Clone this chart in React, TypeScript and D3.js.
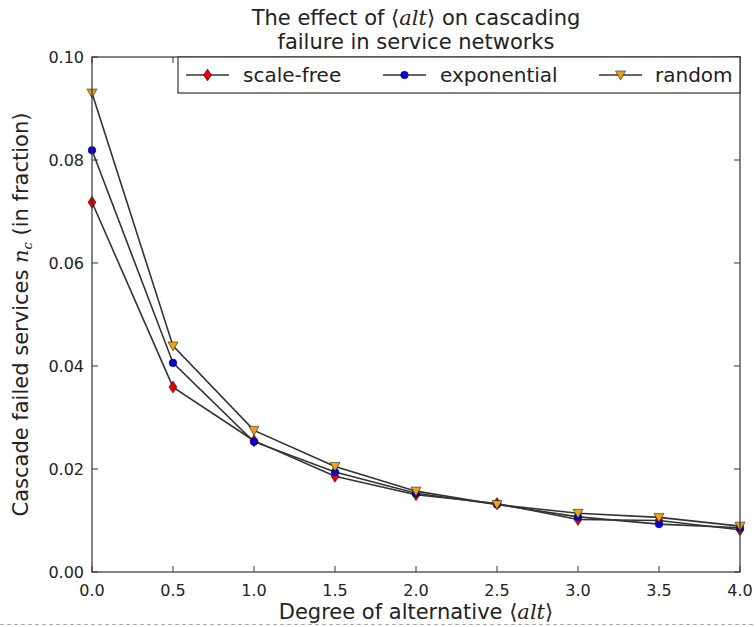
import React from "react";
import * as d3 from "d3";

// x values: degree of alternative <alt>
const altValues = [0.0, 0.5, 1.0, 1.5, 2.0, 2.5, 3.0, 3.5, 4.0];

// cascade failed services (fraction) per network type
const scaleFree = [0.0718, 0.0359, 0.0255, 0.0186, 0.0150, 0.0133, 0.0102, 0.0100, 0.0082];
const exponential = [0.0819, 0.0406, 0.0253, 0.0194, 0.0153, 0.0131, 0.0107, 0.0093, 0.0086];
const random = [0.0930, 0.0439, 0.0275, 0.0205, 0.0157, 0.0131, 0.0114, 0.0106, 0.0089];

const xTicks = [0.0, 0.5, 1.0, 1.5, 2.0, 2.5, 3.0, 3.5, 4.0];
const yTicks = [0.0, 0.02, 0.04, 0.06, 0.08, 0.1];

const series = [
  { name: "scale-free", values: scaleFree, color: "#e8000b", marker: "diamond" },
  { name: "exponential", values: exponential, color: "#0000e0", marker: "circle" },
  { name: "random", values: random, color: "#e8a317", marker: "triangle" },
];

const width = 755;
const height = 627;
const margin = { left: 92, right: 15, top: 57, bottom: 55 };
const font = "'DejaVu Sans', sans-serif";

const Marker = ({ type, x, y, color }: { type: string; x: number; y: number; color: string }) => {
  if (type === "diamond") {
    return (
      <path
        d={`M${x},${y - 6} L${x + 4},${y} L${x},${y + 6} L${x - 4},${y} Z`}
        fill={color}
        stroke="#000"
        strokeWidth={0.5}
      />
    );
  }
  if (type === "circle") {
    return <circle cx={x} cy={y} r={3.8} fill={color} stroke="#000" strokeWidth={0.5} />;
  }
  return (
    <path
      d={`M${x - 5},${y - 4} L${x + 5},${y - 4} L${x},${y + 5} Z`}
      fill={color}
      stroke="#000"
      strokeWidth={0.5}
    />
  );
};

const Alt = () => (
  <>
    <tspan fontFamily="'DejaVu Sans', sans-serif">⟨</tspan>
    <tspan fontFamily="'DejaVu Serif', serif" fontStyle="italic">alt</tspan>
    <tspan fontFamily="'DejaVu Sans', sans-serif">⟩</tspan>
  </>
);

export default function App() {
  const x = d3
    .scaleLinear()
    .domain([0, 4])
    .range([margin.left, width - margin.right]);
  const y = d3
    .scaleLinear()
    .domain([0, 0.1])
    .range([height - margin.bottom, margin.top]);

  const line = d3
    .line<number>()
    .x((_, i) => x(altValues[i]))
    .y((d) => y(d));

  const x0 = x(0);
  const x1 = x(4);
  const y0 = y(0);
  const y1 = y(0.1);
  const cx = (x0 + x1) / 2;

  const legendLeft = 178;
  const legendItems = [
    { lx: 186, tx: 243 },
    { lx: 383, tx: 440 },
    { lx: 599, tx: 655 },
  ];

  return (
    <svg
      width={width}
      height={height}
      style={{ display: "block", position: "fixed", left: 0, top: 0 }}
    >
      <rect x={0} y={0} width={width} height={height} fill="#fff" />

      {/* title */}
      <text x={cx} y={25} textAnchor="middle" fontFamily={font} fontSize={21} fill="#222">
        The effect of <Alt /> on cascading
      </text>
      <text x={cx} y={49} textAnchor="middle" fontFamily={font} fontSize={21} fill="#222">
        failure in service networks
      </text>

      {/* ticks */}
      {xTicks.map((t) => (
        <g key={"x" + t}>
          <line x1={x(t)} x2={x(t)} y1={y0} y2={y0 - 6} stroke="#333" />
          <line x1={x(t)} x2={x(t)} y1={y1} y2={y1 + 6} stroke="#333" />
          <text x={x(t)} y={y0 + 24} textAnchor="middle" fontFamily={font} fontSize={16} fill="#222">
            {t.toFixed(1)}
          </text>
        </g>
      ))}
      {yTicks.map((t) => (
        <g key={"y" + t}>
          <line x1={x0} x2={x0 + 6} y1={y(t)} y2={y(t)} stroke="#333" />
          <line x1={x1} x2={x1 - 6} y1={y(t)} y2={y(t)} stroke="#333" />
          <text x={x0 - 8} y={y(t) + 6} textAnchor="end" fontFamily={font} fontSize={16} fill="#222">
            {t.toFixed(2)}
          </text>
        </g>
      ))}

      {/* series */}
      {series.map((s) => (
        <g key={s.name}>
          <path d={line(s.values) || ""} fill="none" stroke="#333" strokeWidth={1.6} />
          {s.values.map((v, i) => (
            <Marker key={i} type={s.marker} x={x(altValues[i])} y={y(v)} color={s.color} />
          ))}
        </g>
      ))}

      {/* frame */}
      <rect x={x0} y={y1} width={x1 - x0} height={y0 - y1} fill="none" stroke="#333" strokeWidth={1.2} />

      {/* legend */}
      <rect
        x={legendLeft}
        y={y1}
        width={x1 - legendLeft}
        height={36}
        fill="#fff"
        stroke="#333"
        strokeWidth={1.2}
      />
      {series.map((s, i) => {
        const ly = y1 + 18;
        const { lx, tx } = legendItems[i];
        return (
          <g key={"leg" + s.name}>
            <line x1={lx} x2={lx + 43} y1={ly} y2={ly} stroke="#333" strokeWidth={1.6} />
            <Marker type={s.marker} x={lx + 21.5} y={ly} color={s.color} />
            <text x={tx} y={ly + 7} fontFamily={font} fontSize={20} fill="#222">
              {s.name}
            </text>
          </g>
        );
      })}

      {/* axis labels */}
      <text x={cx} y={619} textAnchor="middle" fontFamily={font} fontSize={21} fill="#222">
        Degree of alternative <Alt />
      </text>
      <text
        transform={`translate(28, ${(y0 + y1) / 2}) rotate(-90)`}
        textAnchor="middle"
        fontFamily={font}
        fontSize={21}
        fill="#222"
      >
        Cascade failed services{" "}
        <tspan fontFamily="'DejaVu Serif', serif" fontStyle="italic">n</tspan>
        <tspan fontFamily="'DejaVu Serif', serif" fontStyle="italic" fontSize={13} dy={4}>c</tspan>
        <tspan dy={-4}> (in fraction)</tspan>
      </text>

      {/* dashed crop line */}
      <line x1={0} x2={width} y1={624.5} y2={624.5} stroke="#aaa" strokeDasharray="4,3" />
    </svg>
  );
}
